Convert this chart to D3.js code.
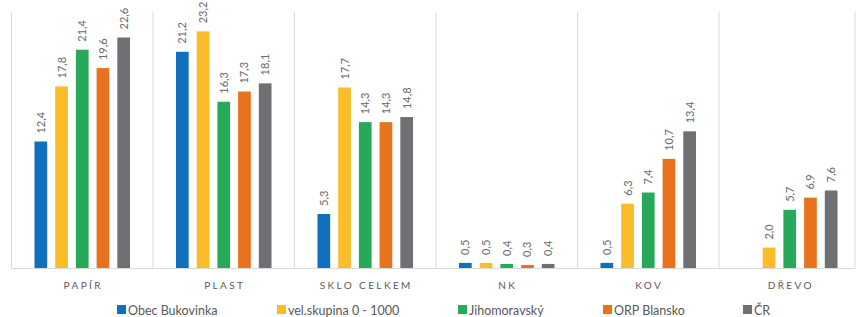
<!DOCTYPE html>
<html><head><meta charset="utf-8">
<script src="https://cdn.jsdelivr.net/npm/d3@7"></script>
<style>body{margin:0;background:#fff}svg{display:block}</style>
</head><body>
<svg id="c" width="856" height="317"></svg>
<script>
const categories = ["PAPÍR", "PLAST", "SKLO CELKEM", "NK", "KOV", "DŘEVO"];
const seriesNames = ["Obec Bukovinka", "vel.skupina 0 - 1000", "Jihomoravský", "ORP Blansko", "ČR"];
const obecBukovinka = [12.4, 21.2, 5.3, 0.5, 0.5, null];
const velSkupina = [17.8, 23.2, 17.7, 0.5, 6.3, 2.0];
const jihomoravsky = [21.4, 16.3, 14.3, 0.4, 7.4, 5.7];
const orpBlansko = [19.6, 17.3, 14.3, 0.3, 10.7, 6.9];
const cr = [22.6, 18.1, 14.8, 0.4, 13.4, 7.6];
const seriesValues = [obecBukovinka, velSkupina, jihomoravsky, orpBlansko, cr];
const colors = ["#1170BD", "#FBBC2A", "#27A95A", "#E8731F", "#6E7073"];

(function () {
const svg = d3.select("#c");
const font = "Lato, 'Open Sans', sans-serif";
const base = 268, plotTop = 12;
const x0 = d3.scaleBand().domain(categories).range([11.5, 860.5]).padding(0);
const cw = x0.bandwidth();
const x1 = d3.scaleBand().domain(seriesNames).range([0, cw]).paddingInner(0.386).paddingOuter(1.11);
const y = d3.scaleLinear().domain([0, 25]).range([base, base - 255]);

const bounds = categories.map(c => x0(c));
svg.selectAll("line.sep").data(bounds).join("line")
  .attr("x1", d => d).attr("x2", d => d).attr("y1", plotTop).attr("y2", base)
  .attr("stroke", "#d9d9d9").attr("stroke-width", 1);
svg.append("line").attr("x1", 855).attr("x2", 855).attr("y1", plotTop).attr("y2", base)
  .attr("stroke", "#d9d9d9");
svg.append("line").attr("x1", 11.5).attr("x2", 855).attr("y1", base + 0.5).attr("y2", base + 0.5)
  .attr("stroke", "#d9d9d9");

const flat = [];
categories.forEach((c, i) => seriesNames.forEach((s, j) => {
  const v = seriesValues[j][i];
  if (v != null) flat.push({c, s, v, j});
}));

const g = svg.append("g");
g.selectAll("rect").data(flat).join("rect")
  .attr("x", d => x0(d.c) + x1(d.s))
  .attr("width", x1.bandwidth())
  .attr("y", d => y(d.v))
  .attr("height", d => base - y(d.v))
  .attr("fill", d => colors[d.j]);

g.selectAll("text.lbl").data(flat).join("text")
  .attr("class", "lbl")
  .attr("transform", d => `translate(${x0(d.c) + x1(d.s) + x1.bandwidth() / 2 + 4},${y(d.v) - 8}) rotate(-90)`)
  .attr("font-family", font).attr("font-size", 11).attr("fill", "#6a6a6a")
  .text(d => d.v.toFixed(1).replace(".", ","));

svg.selectAll("text.cat").data(categories).join("text")
  .attr("class", "cat")
  .attr("x", d => x0(d) + cw / 2 + 1)
  .attr("y", 289)
  .attr("text-anchor", "middle")
  .attr("font-family", font).attr("font-size", 10).attr("letter-spacing", 2.4)
  .attr("fill", "#595959")
  .text(d => d);

const legendX = [117, 277, 458, 603, 743];
const lg = svg.selectAll("g.leg").data(seriesNames).join("g")
  .attr("class", "leg")
  .attr("transform", (d, i) => `translate(${legendX[i]},305)`);
lg.append("rect").attr("width", 9).attr("height", 9).attr("fill", (d, i) => colors[i]);
lg.append("text").attr("x", 11).attr("y", 9.5)
  .attr("font-family", font).attr("font-size", 12.5).attr("fill", "#595959")
  .text(d => d);
})();
</script>
</body></html>
